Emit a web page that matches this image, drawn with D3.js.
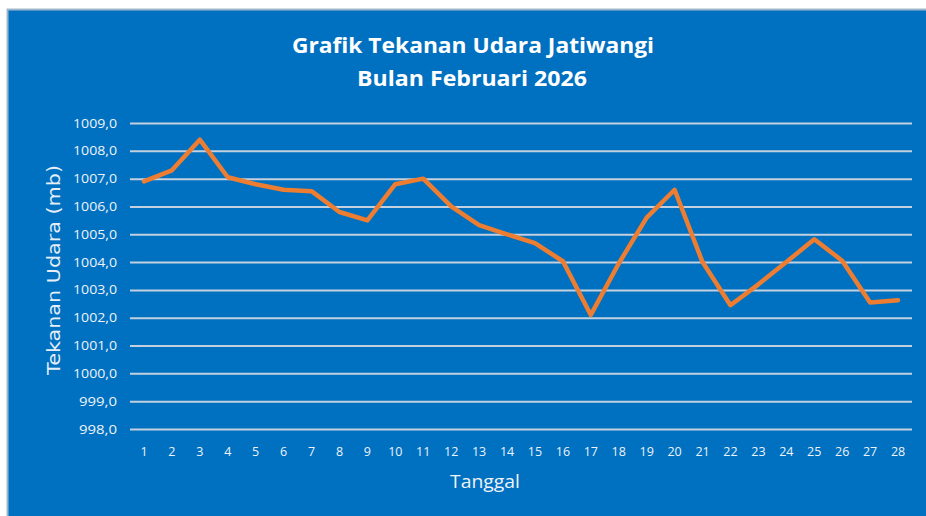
<!DOCTYPE html>
<html>
<head>
<meta charset="utf-8">
<script src="https://cdn.jsdelivr.net/npm/d3@7"></script>
<style>
  body { margin: 0; background: #fff; }
  text { font-family: "Open Sans", "Noto Sans", sans-serif; }
</style>
</head>
<body>
<div id="container"></div>
<script>
// data
var days = d3.range(1, 29).map(String);
var pressure = [1006.9, 1007.3, 1008.4, 1007.05, 1006.8, 1006.6, 1006.55, 1005.8, 1005.5, 1006.8,
                1007.0, 1006.0, 1005.33, 1005.0, 1004.68, 1004.03, 1002.1, 1003.95, 1005.6, 1006.6,
                1004.0, 1002.45, 1003.2, 1004.0, 1004.82, 1004.05, 1002.55, 1002.63];
var yTicks = d3.range(998, 1010);

var width = 926, height = 516;
var plot = {left: 130, right: 912, top: 123, bottom: 429};

var svg = d3.select("#container").append("svg")
  .attr("width", width)
  .attr("height", height);

// background panel
svg.append("rect")
  .attr("x", 7.5).attr("y", 9.5)
  .attr("width", width).attr("height", height)
  .style("fill", "#0070c0")
  .style("stroke", "#9fb7cc")
  .style("stroke-width", 2);

var x = d3.scaleBand().domain(days).range([plot.left, plot.right]);
var y = d3.scaleLinear().domain([998, 1009]).range([plot.bottom, plot.top]);

var fmt = function(d) { return d3.format(".1f")(d).replace(".", ","); };

// gridlines + y labels
var yAxis = svg.append("g")
  .attr("class", "y axis")
  .attr("transform", "translate(" + plot.left + ",0)")
  .call(d3.axisLeft(y).tickValues(yTicks).tickFormat(fmt)
    .tickSize(-(plot.right - plot.left)).tickPadding(13));
yAxis.select(".domain").remove();
yAxis.selectAll("line").style("stroke", "#c3d0e0").style("stroke-width", 2);
yAxis.selectAll("text")
  .style("fill", "#eef3f9")
  .style("font-size", "12.5px")
  .attr("textLength", 44)
  .attr("lengthAdjust", "spacingAndGlyphs");
yAxis.selectAll(".tick").filter(function(d) { return d < 1000; }).select("text")
  .attr("textLength", 38);

// x labels
var xAxis = svg.append("g")
  .attr("class", "x axis")
  .attr("transform", "translate(0," + plot.bottom + ")")
  .call(d3.axisBottom(x).tickSize(0).tickPadding(18));
xAxis.select(".domain").remove();
xAxis.selectAll("text")
  .style("fill", "#eef3f9")
  .style("font-size", "12.5px");

// line
var line = d3.line()
  .x(function(d, i) { return x(days[i]) + x.bandwidth() / 2; })
  .y(function(d) { return y(d); });

svg.append("path")
  .datum(pressure)
  .attr("d", line)
  .style("fill", "none")
  .style("stroke", "#ed7d31")
  .style("stroke-width", 4.5)
  .style("stroke-linejoin", "round")
  .style("stroke-linecap", "round");

// titles
svg.append("text")
  .attr("x", 473).attr("y", 53)
  .style("text-anchor", "middle")
  .style("font-size", "22px").style("font-weight", "bold")
  .style("fill", "#ffffff")
  .attr("textLength", 362).attr("lengthAdjust", "spacingAndGlyphs")
  .text("Grafik Tekanan Udara Jatiwangi");

svg.append("text")
  .attr("x", 472).attr("y", 86)
  .style("text-anchor", "middle")
  .style("font-size", "22px").style("font-weight", "bold")
  .style("fill", "#ffffff")
  .attr("textLength", 230).attr("lengthAdjust", "spacingAndGlyphs")
  .text("Bulan Februari 2026");

svg.append("text")
  .attr("x", 485).attr("y", 488)
  .style("text-anchor", "middle")
  .style("font-size", "19px")
  .style("fill", "#eef3f9")
  .attr("textLength", 70).attr("lengthAdjust", "spacingAndGlyphs")
  .text("Tanggal");

svg.append("text")
  .attr("transform", "translate(60,270) rotate(-90)")
  .style("text-anchor", "middle")
  .style("font-size", "18px")
  .style("font-family", "'DejaVu Sans', sans-serif")
  .style("fill", "#e6eef7")
  .attr("textLength", 210).attr("lengthAdjust", "spacingAndGlyphs")
  .text("Tekanan Udara (mb)");
</script>
</body>
</html>
